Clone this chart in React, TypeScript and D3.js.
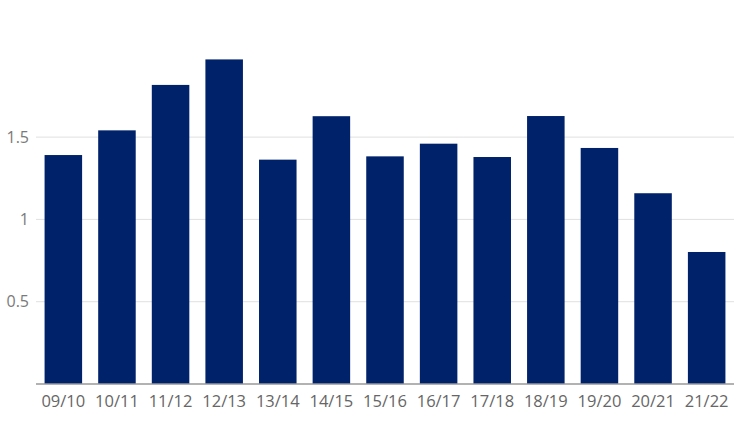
import React from "react";
import * as d3 from "d3";

const categories = ["09/10", "10/11", "11/12", "12/13", "13/14", "14/15", "15/16", "16/17", "17/18", "18/19", "19/20", "20/21", "21/22"];
const values = [1.391, 1.541, 1.817, 1.972, 1.363, 1.627, 1.383, 1.46, 1.379, 1.628, 1.434, 1.159, 0.802];
const yTicks = [0.5, 1, 1.5];

const W = 750;
const H = 425;

export default function App() {
  const x = d3.scaleBand<string>().domain(categories).range([36, 734]).paddingInner(0.3).paddingOuter(0.16);
  const y = d3.scaleLinear().domain([0, 2]).range([384, 54.8]);
  const font = "'Open Sans', sans-serif";
  return (
    <svg width={W} height={H} style={{ position: "absolute", left: 0, top: 0 }}>
      <rect width={W} height={H} fill="#fff" />
      {yTicks.map((t) => (
        <g key={t}>
          <line x1={36} x2={734} y1={y(t)} y2={y(t)} stroke="#e0e0e0" strokeWidth={1} />
          <text x={29} y={y(t)} dy="0.35em" textAnchor="end" fontSize={16} fill="#7a7a7a" fontFamily={font}>
            {t}
          </text>
        </g>
      ))}
      {categories.map((c, i) => (
        <rect key={c} x={x(c)} y={y(values[i])} width={x.bandwidth()} height={y(0) - y(values[i])} fill="#00226b" />
      ))}
      <line x1={36} x2={734} y1={y(0)} y2={y(0)} stroke="#999" strokeWidth={1.5} />
      {categories.map((c) => (
        <text key={c} x={(x(c) as number) + x.bandwidth() / 2} y={401} dy="0.35em" textAnchor="middle" fontSize={16.5} fill="#666" fontFamily={font}>
          {c}
        </text>
      ))}
    </svg>
  );
}
